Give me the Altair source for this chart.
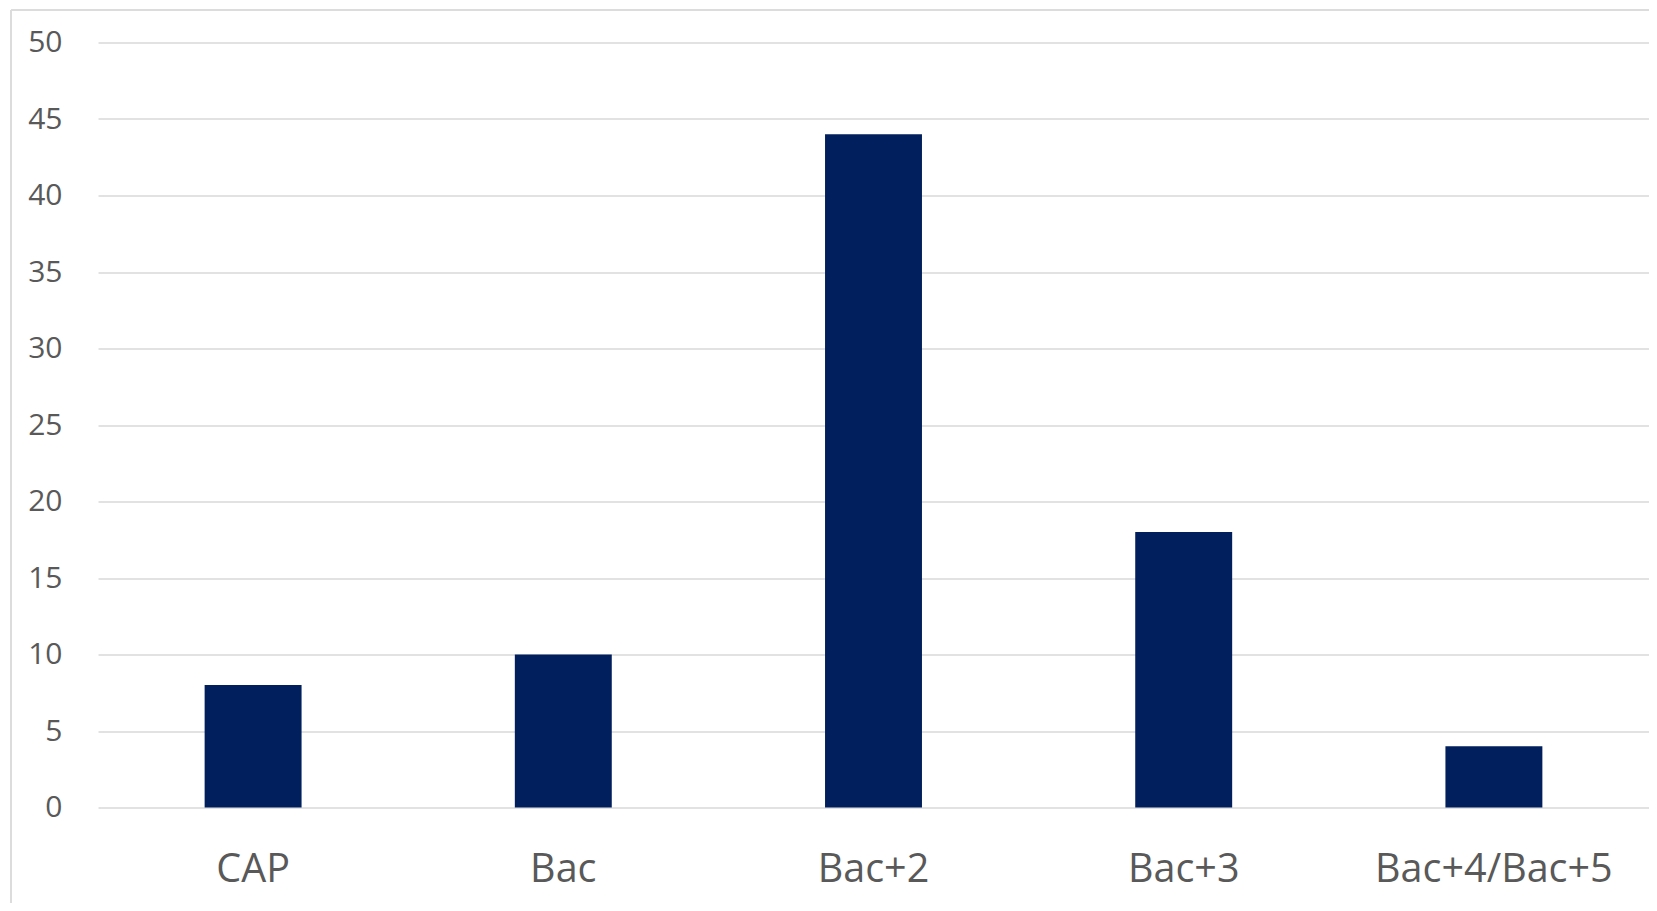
import altair as alt
import pandas as pd

categories = ["CAP", "Bac", "Bac+2", "Bac+3", "Bac+4/Bac+5"]
values = [8, 10, 44, 18, 4]
y_ticks = [0, 5, 10, 15, 20, 25, 30, 35, 40, 45, 50]

df = pd.DataFrame({"cat": categories, "val": values})

W, H = 1551, 765

bars = alt.Chart(df).mark_bar(color="#001F5C").encode(
    x=alt.X("cat:N", sort=categories, title=None,
            scale=alt.Scale(paddingInner=0.6875, paddingOuter=0.34375),
            axis=alt.Axis(labelAngle=0, domain=False, ticks=False, grid=False,
                          labelFont="Open Sans", labelFontSize=39.5, labelLimit=0,
                          labelColor="#595959", labelPadding=43)),
    y=alt.Y("val:Q", title=None,
            scale=alt.Scale(domain=[0, 50], nice=False),
            axis=alt.Axis(values=y_ticks, domain=False, ticks=False,
                          grid=True, gridColor="#d9d9d9", gridWidth=1.6,
                          labelFont="Open Sans", labelFontSize=30,
                          labelColor="#595959", labelPadding=36)),
)

frame_df = pd.DataFrame({"k": [0]})
left_line = alt.Chart(frame_df).mark_rule(color="#dcdcdc", strokeWidth=2).encode(
    x=alt.value(-87), y=alt.value(-32.5), y2=alt.value(H + 140)
)
top_line = alt.Chart(frame_df).mark_rule(color="#dcdcdc", strokeWidth=2).encode(
    x=alt.value(-87), x2=alt.value(W + 20), y=alt.value(-32.5)
)

chart = alt.layer(left_line, top_line, bars).properties(
    width=W, height=H,
    autosize=alt.AutoSizeParams(type="none"),
    padding={"left": 90, "top": 34.5, "right": 0, "bottom": 95},
).configure(background="white").configure_view(stroke=None)

chart.save("out.html", embed_options={"renderer": "svg", "actions": False})
